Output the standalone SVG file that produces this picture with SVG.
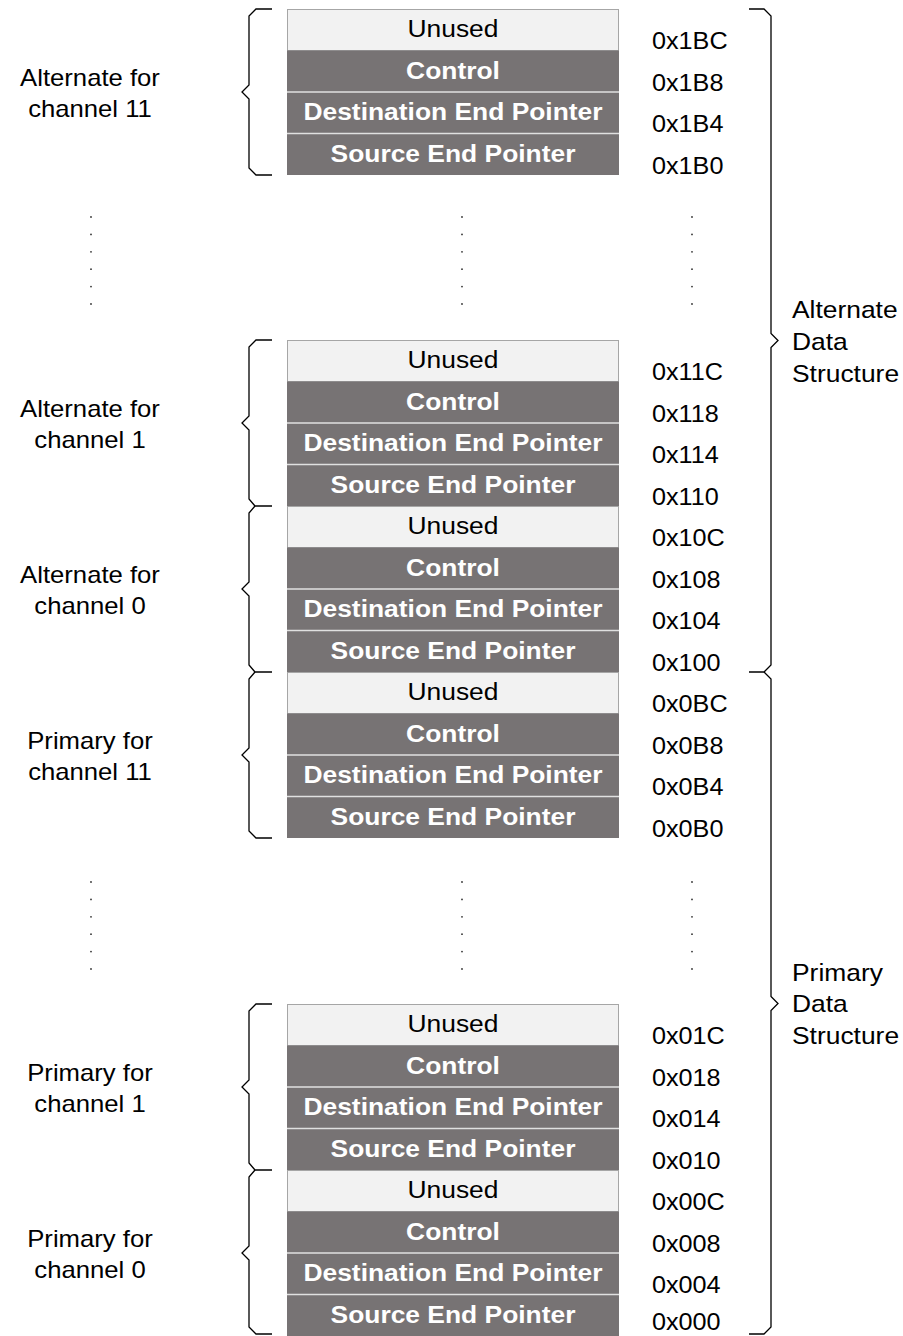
<svg xmlns="http://www.w3.org/2000/svg" width="903" height="1336" viewBox="0 0 903 1336">
<style>
text{font-family:"Liberation Sans",Arial,sans-serif;font-size:24px}
.u{fill:#f2f2f2;stroke:#a6a6a6;stroke-width:1}
.d{fill:#777374}
.sep{stroke:#e0e0e0;stroke-width:1.5}
.tu{fill:#000;text-anchor:middle}
.tb{fill:#fff;font-weight:bold;text-anchor:middle}
.ad{fill:#000}
.lb{fill:#000;text-anchor:middle}
.br{fill:none;stroke:#000;stroke-width:1.3}
.dot{fill:#333}
</style>
<defs>
<g id="blk">
<rect class="u" x="287.5" y="0.5" width="331" height="41"/>
<rect class="d" x="287" y="41.5" width="332" height="124.5"/>
<line class="sep" x1="287" y1="83" x2="619" y2="83"/>
<line class="sep" x1="287" y1="124.5" x2="619" y2="124.5"/>
<text class="tu" transform="translate(453,28) scale(1.1,1)">Unused</text>
<text class="tb" transform="translate(453,69.5) scale(1.1,1)">Control</text>
<text class="tb" transform="translate(453,111) scale(1.1,1)">Destination End Pointer</text>
<text class="tb" transform="translate(453,152.5) scale(1.1,1)">Source End Pointer</text>
</g>
</defs>

<g id="alt11">
<use href="#blk" y="9"/>
<text class="lb" transform="translate(90,85.5) scale(1.07,1)">Alternate for</text>
<text class="lb" transform="translate(90,116.5) scale(1.07,1)">channel 11</text>
<text class="ad" transform="translate(652,49) scale(1.05,1)">0x1BC</text>
<text class="ad" transform="translate(652,90.5) scale(1.05,1)">0x1B8</text>
<text class="ad" transform="translate(652,132) scale(1.05,1)">0x1B4</text>
<text class="ad" transform="translate(652,173.5) scale(1.05,1)">0x1B0</text>
</g>

<g id="alt1">
<use href="#blk" y="340"/>
<text class="lb" transform="translate(90,416.5) scale(1.07,1)">Alternate for</text>
<text class="lb" transform="translate(90,447.5) scale(1.07,1)">channel 1</text>
<text class="ad" transform="translate(652,380) scale(1.05,1)">0x11C</text>
<text class="ad" transform="translate(652,421.5) scale(1.05,1)">0x118</text>
<text class="ad" transform="translate(652,463) scale(1.05,1)">0x114</text>
<text class="ad" transform="translate(652,504.5) scale(1.05,1)">0x110</text>
</g>

<g id="alt0">
<use href="#blk" y="506"/>
<text class="lb" transform="translate(90,582.5) scale(1.07,1)">Alternate for</text>
<text class="lb" transform="translate(90,613.5) scale(1.07,1)">channel 0</text>
<text class="ad" transform="translate(652,546) scale(1.05,1)">0x10C</text>
<text class="ad" transform="translate(652,587.5) scale(1.05,1)">0x108</text>
<text class="ad" transform="translate(652,629) scale(1.05,1)">0x104</text>
<text class="ad" transform="translate(652,670.5) scale(1.05,1)">0x100</text>
</g>

<g id="pri11">
<use href="#blk" y="672"/>
<text class="lb" transform="translate(90,748.5) scale(1.07,1)">Primary for</text>
<text class="lb" transform="translate(90,779.5) scale(1.07,1)">channel 11</text>
<text class="ad" transform="translate(652,712) scale(1.05,1)">0x0BC</text>
<text class="ad" transform="translate(652,753.5) scale(1.05,1)">0x0B8</text>
<text class="ad" transform="translate(652,795) scale(1.05,1)">0x0B4</text>
<text class="ad" transform="translate(652,836.5) scale(1.05,1)">0x0B0</text>
</g>

<g id="pri1">
<use href="#blk" y="1004"/>
<text class="lb" transform="translate(90,1080.5) scale(1.07,1)">Primary for</text>
<text class="lb" transform="translate(90,1111.5) scale(1.07,1)">channel 1</text>
<text class="ad" transform="translate(652,1044) scale(1.05,1)">0x01C</text>
<text class="ad" transform="translate(652,1085.5) scale(1.05,1)">0x018</text>
<text class="ad" transform="translate(652,1127) scale(1.05,1)">0x014</text>
<text class="ad" transform="translate(652,1168.5) scale(1.05,1)">0x010</text>
</g>

<g id="pri0">
<use href="#blk" y="1170"/>
<text class="lb" transform="translate(90,1246.5) scale(1.07,1)">Primary for</text>
<text class="lb" transform="translate(90,1277.5) scale(1.07,1)">channel 0</text>
<text class="ad" transform="translate(652,1210) scale(1.05,1)">0x00C</text>
<text class="ad" transform="translate(652,1251.5) scale(1.05,1)">0x008</text>
<text class="ad" transform="translate(652,1293) scale(1.05,1)">0x004</text>
<text class="ad" transform="translate(652,1330) scale(1.05,1)">0x000</text>
</g>

<g id="altds">
<text class="ad" transform="translate(792,317.5) scale(1.1,1)">Alternate</text>
<text class="ad" transform="translate(792,349.5) scale(1.1,1)">Data</text>
<text class="ad" transform="translate(792,381.5) scale(1.1,1)">Structure</text>
</g>
<g id="prids">
<text class="ad" transform="translate(792,980.5) scale(1.1,1)">Primary</text>
<text class="ad" transform="translate(792,1011.5) scale(1.1,1)">Data</text>
<text class="ad" transform="translate(792,1043.5) scale(1.1,1)">Structure</text>
</g>

<g id="dots">
<g id="dotcol">
<circle class="dot" cx="91" cy="217" r="0.9"/><circle class="dot" cx="91" cy="234.4" r="0.9"/><circle class="dot" cx="91" cy="251.8" r="0.9"/><circle class="dot" cx="91" cy="269.2" r="0.9"/><circle class="dot" cx="91" cy="286.6" r="0.9"/><circle class="dot" cx="91" cy="304" r="0.9"/>
<circle class="dot" cx="462" cy="217" r="0.9"/><circle class="dot" cx="462" cy="234.4" r="0.9"/><circle class="dot" cx="462" cy="251.8" r="0.9"/><circle class="dot" cx="462" cy="269.2" r="0.9"/><circle class="dot" cx="462" cy="286.6" r="0.9"/><circle class="dot" cx="462" cy="304" r="0.9"/>
<circle class="dot" cx="692" cy="217" r="0.9"/><circle class="dot" cx="692" cy="234.4" r="0.9"/><circle class="dot" cx="692" cy="251.8" r="0.9"/><circle class="dot" cx="692" cy="269.2" r="0.9"/><circle class="dot" cx="692" cy="286.6" r="0.9"/><circle class="dot" cx="692" cy="304" r="0.9"/>
</g>
<use href="#dotcol" y="665"/>
</g>

<g id="connectors">
<path class="br" d="M272,9 H256 L249,16 V85 L242,92 L249,99 V168 L256,175 H272"/>
<path class="br" d="M272,340 H256 L249,347 V416 L242,423 L249,430 V499 L255,506 H272"/>
<path class="br" d="M255,506 L249,513 V582 L242,589 L249,596 V665 L255,672 H272"/>
<path class="br" d="M255,672 L249,679 V748 L242,755 L249,762 V831 L256,838 H272"/>
<path class="br" d="M272,1004 H256 L249,1011 V1080 L242,1087 L249,1094 V1163 L255,1170 H272"/>
<path class="br" d="M255,1170 L249,1177 V1246 L242,1253 L249,1260 V1327 L256,1334 H272"/>
<path class="br" d="M749,9 H764 L771,16 V333.5 L778,340.5 L771,347.5 V665 L764,672 H749"/>
<path class="br" d="M764,672 L771,679 V996.5 L778,1003.5 L771,1010.5 V1327 L764,1334 H749"/>
</g>
</svg>
